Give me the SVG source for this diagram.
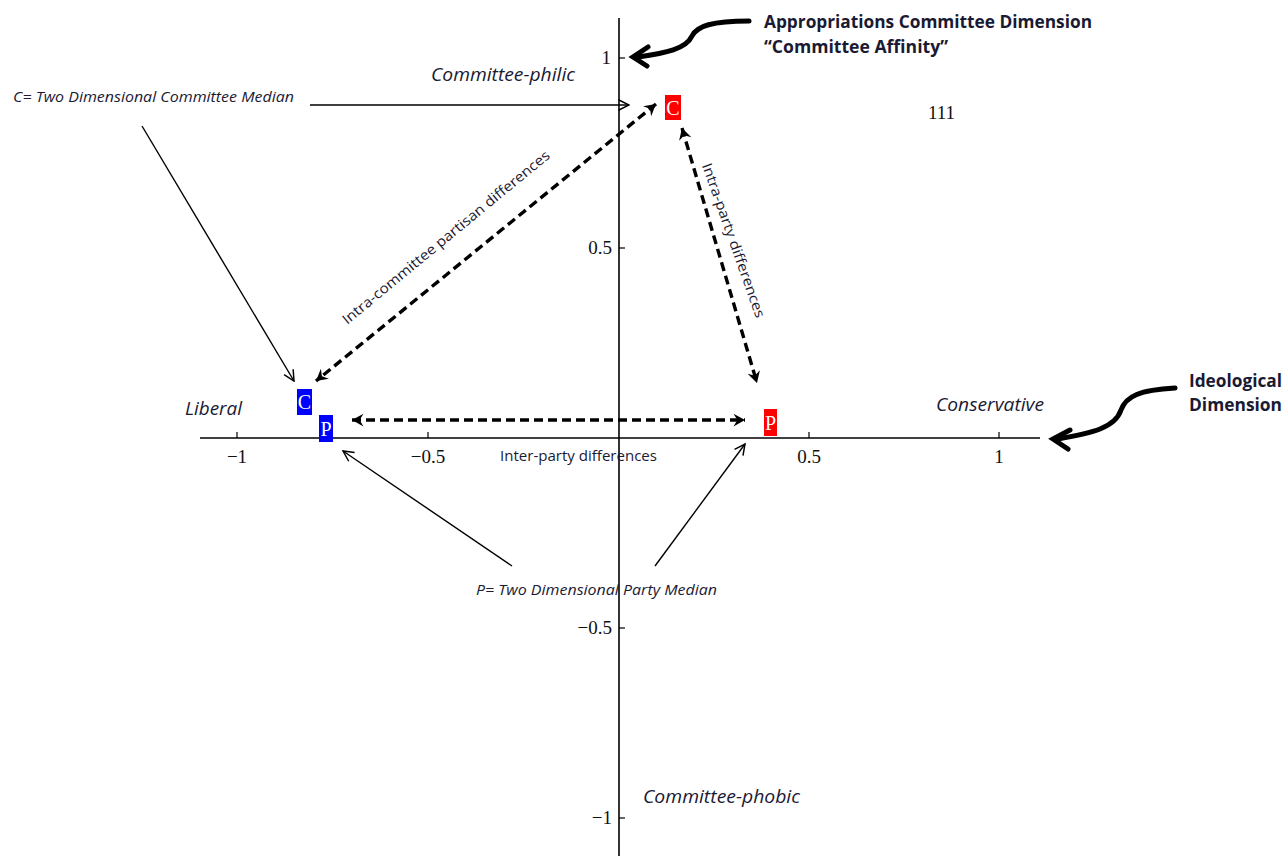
<svg xmlns="http://www.w3.org/2000/svg" width="1286" height="856" viewBox="0 0 1286 856">
<defs>
<style>
.ax{stroke:#000;stroke-width:1.6;fill:none}
.tk{stroke:#000;stroke-width:1.2}
.num{font-family:"Liberation Serif",serif;font-size:19px;fill:#111}
.lab{font-family:"Open Sans","Liberation Sans",sans-serif;fill:#1a1a33}
.it{font-style:italic}
.bd{font-weight:bold}
.dash{stroke:#000;stroke-width:3.4;stroke-dasharray:9,5;fill:none}
.thin{stroke:#000;stroke-width:1.4;fill:none}
.curve{stroke:#000;stroke-width:5;fill:none;stroke-linecap:round}
.box{font-family:"Liberation Serif",serif;font-size:20px;fill:#fff;text-anchor:middle}
</style>
<marker id="dh" viewBox="0 0 12 12" refX="10" refY="6" markerWidth="4.5" markerHeight="4.5" orient="auto-start-reverse" markerUnits="strokeWidth">
<path d="M1,1 L10,6 L1,11 L4,6 Z" fill="#000"/>
</marker>
<marker id="th" viewBox="0 0 12 12" refX="11" refY="6" markerWidth="9" markerHeight="9" orient="auto" markerUnits="strokeWidth">
<path d="M1,1 L11,6 L1,11" fill="none" stroke="#000" stroke-width="1.4"/>
</marker>
</defs>
<rect width="1286" height="856" fill="#fff"/>
<g id="axes">
<line class="ax" x1="619" y1="18" x2="619" y2="856"/>
<line class="ax" x1="200" y1="438" x2="1040" y2="438"/>
<line class="tk" x1="237" y1="432" x2="237" y2="438"/>
<line class="tk" x1="428" y1="432" x2="428" y2="438"/>
<line class="tk" x1="809" y1="432" x2="809" y2="438"/>
<line class="tk" x1="999" y1="432" x2="999" y2="438"/>
<line class="tk" x1="619" y1="58" x2="625" y2="58"/>
<line class="tk" x1="619" y1="248" x2="625" y2="248"/>
<line class="tk" x1="619" y1="628" x2="625" y2="628"/>
<line class="tk" x1="619" y1="818" x2="625" y2="818"/>
<text class="num" x="237" y="463" text-anchor="middle">−1</text>
<text class="num" x="428" y="463" text-anchor="middle">−0.5</text>
<text class="num" x="809" y="463" text-anchor="middle">0.5</text>
<text class="num" x="999" y="463" text-anchor="middle">1</text>
<text class="num" x="611" y="64" text-anchor="end">1</text>
<text class="num" x="612" y="254" text-anchor="end">0.5</text>
<text class="num" x="612" y="634" text-anchor="end">−0.5</text>
<text class="num" x="612" y="824" text-anchor="end">−1</text>
</g>
<g id="connectors">
<line class="dash" x1="656" y1="104" x2="316" y2="381" marker-start="url(#dh)" marker-end="url(#dh)"/>
<line class="dash" x1="682" y1="128" x2="757" y2="383" marker-start="url(#dh)" marker-end="url(#dh)"/>
<line class="dash" x1="352" y1="420" x2="745" y2="420" marker-start="url(#dh)" marker-end="url(#dh)"/>
<line class="thin" x1="310" y1="105" x2="629" y2="105" marker-end="url(#th)"/>
<line class="thin" x1="142" y1="126" x2="294" y2="381" marker-end="url(#th)"/>
<line class="thin" x1="512" y1="566" x2="343" y2="451" marker-end="url(#th)"/>
<line class="thin" x1="655" y1="566" x2="745" y2="444" marker-end="url(#th)"/>
<path class="curve" d="M749,21 C712,21 697,26 692,36 C686,49 666,53 638,57"/>
<path class="curve" d="M648,47 L633,57 L647,66" stroke-linejoin="miter"/>
<path class="curve" d="M1175,388 C1140,390 1126,396 1121,410 C1115,428 1092,433 1058,439"/>
<path class="curve" d="M1070,430 L1053,439 L1068,449"/>
</g>
<g id="node-red-c">
<rect x="665" y="95" width="16" height="25" fill="#ff0000"/>
<text class="box" x="673" y="115">C</text>
</g>
<g id="node-blue-c">
<rect x="297" y="389" width="15" height="26" fill="#0000ff"/>
<text class="box" x="304.5" y="409">C</text>
</g>
<g id="node-blue-p">
<rect x="319" y="415" width="14" height="27" fill="#0000ff"/>
<text class="box" x="326" y="436">P</text>
</g>
<g id="node-red-p">
<rect x="764" y="409" width="13" height="27" fill="#ff0000"/>
<text class="box" x="770.5" y="430">P</text>
</g>
<g id="labels">
<text class="lab bd" x="764" y="28" font-size="17" textLength="328" lengthAdjust="spacingAndGlyphs">Appropriations Committee Dimension</text>
<text class="lab bd" x="764" y="53" font-size="17" textLength="184" lengthAdjust="spacingAndGlyphs">“Committee Affinity”</text>
<text class="lab it" x="13" y="102" font-size="14.5" textLength="281" lengthAdjust="spacingAndGlyphs">C= Two Dimensional Committee Median</text>
<text class="lab it" x="431" y="81" font-size="17.5" textLength="144" lengthAdjust="spacingAndGlyphs">Committee-philic</text>
<text class="num" x="928" y="119" font-size="19">111</text>
<text class="lab it" x="185" y="415" font-size="17.5" textLength="57" lengthAdjust="spacingAndGlyphs">Liberal</text>
<text class="lab it" x="936" y="411" font-size="17.5" textLength="108" lengthAdjust="spacingAndGlyphs">Conservative</text>
<text class="lab bd" x="1189" y="387" font-size="17" textLength="93" lengthAdjust="spacingAndGlyphs">Ideological</text>
<text class="lab bd" x="1189" y="411" font-size="17" textLength="93" lengthAdjust="spacingAndGlyphs">Dimension</text>
<text class="lab" x="500" y="461" font-size="14" textLength="157" lengthAdjust="spacingAndGlyphs">Inter-party differences</text>
<text class="lab it" x="476" y="595" font-size="14.5" textLength="241" lengthAdjust="spacingAndGlyphs">P= Two Dimensional Party Median</text>
<text class="lab it" x="643" y="803" font-size="17.5" textLength="157" lengthAdjust="spacingAndGlyphs">Committee-phobic</text>
<text class="lab" font-size="14" text-anchor="middle" textLength="264" lengthAdjust="spacingAndGlyphs" transform="translate(449,241) rotate(-39.5)">Intra-committee partisan differences</text>
<text class="lab" font-size="14" text-anchor="middle" textLength="163" lengthAdjust="spacingAndGlyphs" transform="translate(729,242) rotate(70.5)">Intra-party differences</text>
</g>
</svg>
